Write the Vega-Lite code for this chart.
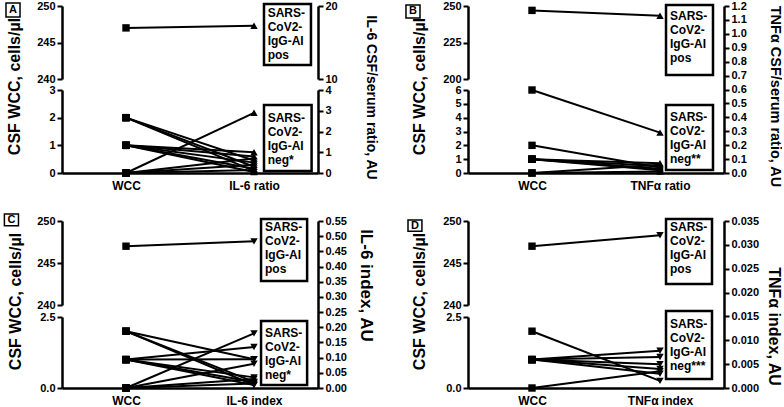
{
"$schema": "https://vega.github.io/schema/vega-lite/v6.json",
"background": "white",
"padding": {"left": 3, "top": 0, "right": 0, "bottom": 0},
"columns": 2,
"spacing": {"row": 48, "column": 150},
"bounds": "flush",
"datasets": {
"pts": [
{"p":"A","g":"pos","wcc":247,"r":17.3},
{"p":"A","g":"neg","wcc":2,"r":0.1},
{"p":"A","g":"neg","wcc":2,"r":0.3},
{"p":"A","g":"neg","wcc":2,"r":0.6},
{"p":"A","g":"neg","wcc":1,"r":1.0},
{"p":"A","g":"neg","wcc":1,"r":0.8},
{"p":"A","g":"neg","wcc":1,"r":0.5},
{"p":"A","g":"neg","wcc":1,"r":0.2},
{"p":"A","g":"neg","wcc":1,"r":0.05},
{"p":"A","g":"neg","wcc":0,"r":2.9},
{"p":"A","g":"neg","wcc":0,"r":0.7},
{"p":"A","g":"neg","wcc":0,"r":0.4},
{"p":"A","g":"neg","wcc":0,"r":0.15},
{"p":"B","g":"pos","wcc":247,"r":1.13},
{"p":"B","g":"neg","wcc":6,"r":0.29},
{"p":"B","g":"neg","wcc":2,"r":0.04},
{"p":"B","g":"neg","wcc":1,"r":0.07},
{"p":"B","g":"neg","wcc":1,"r":0.05},
{"p":"B","g":"neg","wcc":1,"r":0.03},
{"p":"B","g":"neg","wcc":1,"r":0.02},
{"p":"B","g":"neg","wcc":0,"r":0.06},
{"p":"B","g":"neg","wcc":0,"r":0.01},
{"p":"C","g":"pos","wcc":247,"r":0.483},
{"p":"C","g":"neg","wcc":2,"r":0.095},
{"p":"C","g":"neg","wcc":2,"r":0.01},
{"p":"C","g":"neg","wcc":2,"r":0.02},
{"p":"C","g":"neg","wcc":1,"r":0.135},
{"p":"C","g":"neg","wcc":1,"r":0.095},
{"p":"C","g":"neg","wcc":1,"r":0.035},
{"p":"C","g":"neg","wcc":1,"r":0.02},
{"p":"C","g":"neg","wcc":1,"r":0.01},
{"p":"C","g":"neg","wcc":0,"r":0.18},
{"p":"C","g":"neg","wcc":0,"r":0.08},
{"p":"C","g":"neg","wcc":0,"r":0.03},
{"p":"C","g":"neg","wcc":0,"r":0.015},
{"p":"D","g":"pos","wcc":247,"r":0.032},
{"p":"D","g":"neg","wcc":2,"r":0.0015},
{"p":"D","g":"neg","wcc":1,"r":0.0078},
{"p":"D","g":"neg","wcc":1,"r":0.0065},
{"p":"D","g":"neg","wcc":1,"r":0.005},
{"p":"D","g":"neg","wcc":1,"r":0.004},
{"p":"D","g":"neg","wcc":1,"r":0.003},
{"p":"D","g":"neg","wcc":0,"r":0.0035}
],
"labels": [
{"p":"A","k":"tag","t":"A"},
{"p":"A","k":"pos","t":"SARS-\nCoV2-\nIgG-AI\npos"},
{"p":"A","k":"neg","t":"SARS-\nCoV2-\nIgG-AI\nneg*"},
{"p":"B","k":"tag","t":"B"},
{"p":"B","k":"pos","t":"SARS-\nCoV2-\nIgG-AI\npos"},
{"p":"B","k":"neg","t":"SARS-\nCoV2-\nIgG-AI\nneg**"},
{"p":"C","k":"tag","t":"C"},
{"p":"C","k":"pos","t":"SARS-\nCoV2-\nIgG-AI\npos"},
{"p":"C","k":"neg","t":"SARS-\nCoV2-\nIgG-AI\nneg*"},
{"p":"D","k":"tag","t":"D"},
{"p":"D","k":"pos","t":"SARS-\nCoV2-\nIgG-AI\npos"},
{"p":"D","k":"neg","t":"SARS-\nCoV2-\nIgG-AI\nneg***"}
]
},
"concat": [
{
"width": 256, "height": 167,
"resolve": {"scale": {"y": "independent"}, "axis": {"y": "independent"}},
"layer": [
{"data":{"name":"pts"},"transform":[{"filter":"datum.p=='A' && datum.g=='neg'"},{"calculate":"0.75*datum.r","as":"re"}],
 "mark":{"type":"rule","color":"black","strokeWidth":2},
 "encoding":{"x":{"datum":1,"type":"quantitative","scale":{"domain":[0,4]},"axis":{"orient":"bottom","values":[1,3],"labelExpr":"datum.value==1?'WCC':'IL-6 ratio'","title":null,"ticks":false,"tickSize":0,"labelPadding":7,"labelFontSize":12}},"x2":{"datum":3},
  "y":{"field":"wcc","type":"quantitative","scale":{"domain":[0,3],"range":[167,84]},"axis":null},"y2":{"field":"re"}}},
{"data":{"name":"pts"},"transform":[{"filter":"datum.p=='A' && datum.g=='pos'"},{"calculate":"230+datum.r","as":"re"}],
 "mark":{"type":"rule","color":"black","strokeWidth":2},
 "encoding":{"x":{"datum":1,"type":"quantitative","scale":{"domain":[0,4]}},"x2":{"datum":3},
  "y":{"field":"wcc","type":"quantitative","scale":{"domain":[240,250],"range":[73,0]},"axis":null},"y2":{"field":"re"}}},
{"data":{"name":"pts"},"transform":[{"filter":"datum.p=='A' && datum.g=='neg'"}],
 "mark":{"type":"point","shape":"square","filled":true,"color":"black","opacity":1,"size":55},
 "encoding":{"x":{"datum":1,"type":"quantitative","scale":{"domain":[0,4]}},
  "y":{"field":"wcc","type":"quantitative","scale":{"domain":[0,3],"range":[167,84]},"axis":{"orient":"left","values":[0,1,2,3],"title":"CSF WCC, cells/µl","titleX":-48,"titleY":80}}}},
{"data":{"name":"pts"},"transform":[{"filter":"datum.p=='A' && datum.g=='pos'"}],
 "mark":{"type":"point","shape":"square","filled":true,"color":"black","opacity":1,"size":55},
 "encoding":{"x":{"datum":1,"type":"quantitative","scale":{"domain":[0,4]}},
  "y":{"field":"wcc","type":"quantitative","scale":{"domain":[240,250],"range":[73,0]},"axis":{"orient":"left","values":[240,245,250],"title":null}}}},
{"data":{"name":"pts"},"transform":[{"filter":"datum.p=='A' && datum.g=='neg'"}],
 "mark":{"type":"point","shape":"triangle-up","filled":true,"color":"black","opacity":1,"size":55},
 "encoding":{"x":{"datum":3,"type":"quantitative","scale":{"domain":[0,4]}},
  "y":{"field":"r","type":"quantitative","scale":{"domain":[0,4],"range":[167,84]},"axis":{"orient":"right","values":[0,1,2,3,4],"title":"IL-6 CSF/serum ratio, AU","titleX":52,"titleY":91,"titleFontSize":14}}}},
{"data":{"name":"pts"},"transform":[{"filter":"datum.p=='A' && datum.g=='pos'"}],
 "mark":{"type":"point","shape":"triangle-up","filled":true,"color":"black","opacity":1,"size":55},
 "encoding":{"x":{"datum":3,"type":"quantitative","scale":{"domain":[0,4]}},
  "y":{"field":"r","type":"quantitative","scale":{"domain":[10,20],"range":[73,0]},"axis":{"orient":"right","values":[10,20],"title":null}}}},
{"data":{"name":"labels"},"transform":[{"filter":"datum.p=='A' && datum.k=='pos'"}],
 "mark":{"type":"rect","fill":"white","stroke":"black","strokeWidth":2.5},
 "encoding":{"x":{"datum":3.156,"type":"quantitative","scale":{"domain":[0,4]}},"x2":{"datum":3.89},
  "y":{"datum":8.145,"type":"quantitative","scale":{"domain":[0,4],"range":[167,84]},"axis":null},"y2":{"datum":5.205}}},
{"data":{"name":"labels"},"transform":[{"filter":"datum.p=='A' && datum.k=='neg'"}],
 "mark":{"type":"rect","fill":"white","stroke":"black","strokeWidth":2.5},
 "encoding":{"x":{"datum":3.156,"type":"quantitative","scale":{"domain":[0,4]}},"x2":{"datum":3.9},
  "y":{"datum":3.277,"type":"quantitative","scale":{"domain":[0,4],"range":[167,84]},"axis":null},"y2":{"datum":0.096}}},
{"data":{"name":"labels"},"transform":[{"filter":"datum.p=='A' && datum.k=='pos'"}],
 "mark":{"type":"text","align":"left","baseline":"top","lineBreak":"\n","fontSize":12,"fontWeight":"bold","lineHeight":14,"color":"black"},
 "encoding":{"x":{"datum":3.214,"type":"quantitative","scale":{"domain":[0,4]}},
  "y":{"datum":7.933,"type":"quantitative","scale":{"domain":[0,4],"range":[167,84]},"axis":null},"text":{"field":"t"}}},
{"data":{"name":"labels"},"transform":[{"filter":"datum.p=='A' && datum.k=='neg'"}],
 "mark":{"type":"text","align":"left","baseline":"top","lineBreak":"\n","fontSize":12,"fontWeight":"bold","lineHeight":14,"color":"black"},
 "encoding":{"x":{"datum":3.214,"type":"quantitative","scale":{"domain":[0,4]}},
  "y":{"datum":2.906,"type":"quantitative","scale":{"domain":[0,4],"range":[167,84]},"axis":null},"text":{"field":"t"}}},
{"data":{"name":"labels"},"transform":[{"filter":"datum.p=='A' && datum.k=='tag'"}],
 "mark":{"type":"rect","fill":"white","stroke":"black","strokeWidth":1.5},
 "encoding":{"x":{"datum":-0.875,"type":"quantitative","scale":{"domain":[0,4]}},"x2":{"datum":-0.656},
  "y":{"datum":8.193,"type":"quantitative","scale":{"domain":[0,4],"range":[167,84]},"axis":null},"y2":{"datum":7.518}}},
{"data":{"name":"labels"},"transform":[{"filter":"datum.p=='A' && datum.k=='tag'"}],
 "mark":{"type":"text","align":"center","baseline":"middle","fontSize":11,"fontWeight":"bold","color":"black"},
 "encoding":{"x":{"datum":-0.766,"type":"quantitative","scale":{"domain":[0,4]}},
  "y":{"datum":7.855,"type":"quantitative","scale":{"domain":[0,4],"range":[167,84]},"axis":null},"text":{"field":"t"}}}
]
},
{
"width": 256, "height": 167,
"resolve": {"scale": {"y": "independent"}, "axis": {"y": "independent"}},
"layer": [
{"data":{"name":"pts"},"transform":[{"filter":"datum.p=='B' && datum.g=='neg'"},{"calculate":"10.06*datum.r","as":"re"}],
 "mark":{"type":"rule","color":"black","strokeWidth":2},
 "encoding":{"x":{"datum":1,"type":"quantitative","scale":{"domain":[0,4]},"axis":{"orient":"bottom","values":[1,3],"labelExpr":"datum.value==1?'WCC':'TNFα ratio'","title":null,"ticks":false,"tickSize":0,"labelPadding":7,"labelFontSize":12}},"x2":{"datum":3},
  "y":{"field":"wcc","type":"quantitative","scale":{"domain":[0,6],"range":[167,84]},"axis":null},"y2":{"field":"re"}}},
{"data":{"name":"pts"},"transform":[{"filter":"datum.p=='B' && datum.g=='pos'"},{"calculate":"135.616+95.32*datum.r","as":"re"}],
 "mark":{"type":"rule","color":"black","strokeWidth":2},
 "encoding":{"x":{"datum":1,"type":"quantitative","scale":{"domain":[0,4]}},"x2":{"datum":3},
  "y":{"field":"wcc","type":"quantitative","scale":{"domain":[200,250],"range":[73,0]},"axis":null},"y2":{"field":"re"}}},
{"data":{"name":"pts"},"transform":[{"filter":"datum.p=='B' && datum.g=='neg'"}],
 "mark":{"type":"point","shape":"square","filled":true,"color":"black","opacity":1,"size":55},
 "encoding":{"x":{"datum":1,"type":"quantitative","scale":{"domain":[0,4]}},
  "y":{"field":"wcc","type":"quantitative","scale":{"domain":[0,6],"range":[167,84]},"axis":{"orient":"left","values":[0,1,2,3,4,5,6],"title":"CSF WCC, cells/µl","titleX":-49,"titleY":80}}}},
{"data":{"name":"pts"},"transform":[{"filter":"datum.p=='B' && datum.g=='pos'"}],
 "mark":{"type":"point","shape":"square","filled":true,"color":"black","opacity":1,"size":55},
 "encoding":{"x":{"datum":1,"type":"quantitative","scale":{"domain":[0,4]}},
  "y":{"field":"wcc","type":"quantitative","scale":{"domain":[200,250],"range":[73,0]},"axis":{"orient":"left","values":[200,225,250],"title":null}}}},
{"data":{"name":"pts"},"transform":[{"filter":"datum.p=='B'"}],
 "mark":{"type":"point","shape":"triangle-up","filled":true,"color":"black","opacity":1,"size":55},
 "encoding":{"x":{"datum":3,"type":"quantitative","scale":{"domain":[0,4]}},
  "y":{"field":"r","type":"quantitative","scale":{"domain":[0,1.2],"range":[167,0]},"axis":{"orient":"right","values":[0,0.1,0.2,0.3,0.4,0.5,0.6,0.7,0.8,0.9,1.0,1.1,1.2],"format":".1f","title":"TNFα CSF/serum ratio, AU","titleX":50,"titleY":90,"titleFontSize":14.5}}}},
{"data":{"name":"labels"},"transform":[{"filter":"datum.p=='B' && datum.k=='pos'"}],
 "mark":{"type":"rect","fill":"white","stroke":"black","strokeWidth":2.5},
 "encoding":{"x":{"datum":3.094,"type":"quantitative","scale":{"domain":[0,4]}},"x2":{"datum":3.828},
  "y":{"datum":1.2072,"type":"quantitative","scale":{"domain":[0,1.2],"range":[167,0]},"axis":null},"y2":{"datum":0.7042}}},
{"data":{"name":"labels"},"transform":[{"filter":"datum.p=='B' && datum.k=='neg'"}],
 "mark":{"type":"rect","fill":"white","stroke":"black","strokeWidth":2.5},
 "encoding":{"x":{"datum":3.094,"type":"quantitative","scale":{"domain":[0,4]}},"x2":{"datum":3.828},
  "y":{"datum":0.4886,"type":"quantitative","scale":{"domain":[0,1.2],"range":[167,0]},"axis":null},"y2":{"datum":0.0216}}},
{"data":{"name":"labels"},"transform":[{"filter":"datum.p=='B' && datum.k=='pos'"}],
 "mark":{"type":"text","align":"left","baseline":"top","lineBreak":"\n","fontSize":12,"fontWeight":"bold","lineHeight":14,"color":"black"},
 "encoding":{"x":{"datum":3.156,"type":"quantitative","scale":{"domain":[0,4]}},
  "y":{"datum":1.1612,"type":"quantitative","scale":{"domain":[0,1.2],"range":[167,0]},"axis":null},"text":{"field":"t"}}},
{"data":{"name":"labels"},"transform":[{"filter":"datum.p=='B' && datum.k=='neg'"}],
 "mark":{"type":"text","align":"left","baseline":"top","lineBreak":"\n","fontSize":12,"fontWeight":"bold","lineHeight":14,"color":"black"},
 "encoding":{"x":{"datum":3.156,"type":"quantitative","scale":{"domain":[0,4]}},
  "y":{"datum":0.4354,"type":"quantitative","scale":{"domain":[0,1.2],"range":[167,0]},"axis":null},"text":{"field":"t"}}},
{"data":{"name":"labels"},"transform":[{"filter":"datum.p=='B' && datum.k=='tag'"}],
 "mark":{"type":"rect","fill":"white","stroke":"black","strokeWidth":1.5},
 "encoding":{"x":{"datum":-0.969,"type":"quantitative","scale":{"domain":[0,4]}},"x2":{"datum":-0.75},
  "y":{"datum":1.2072,"type":"quantitative","scale":{"domain":[0,1.2],"range":[167,0]},"axis":null},"y2":{"datum":1.1138}}},
{"data":{"name":"labels"},"transform":[{"filter":"datum.p=='B' && datum.k=='tag'"}],
 "mark":{"type":"text","align":"center","baseline":"middle","fontSize":11,"fontWeight":"bold","color":"black"},
 "encoding":{"x":{"datum":-0.86,"type":"quantitative","scale":{"domain":[0,4]}},
  "y":{"datum":1.1605,"type":"quantitative","scale":{"domain":[0,1.2],"range":[167,0]},"axis":null},"text":{"field":"t"}}}
]
},
{
"width": 256, "height": 167,
"resolve": {"scale": {"y": "independent"}, "axis": {"y": "independent"}},
"layer": [
{"data":{"name":"pts"},"transform":[{"filter":"datum.p=='C' && datum.g=='neg'"},{"calculate":"10.6914*datum.r","as":"re"}],
 "mark":{"type":"rule","color":"black","strokeWidth":2},
 "encoding":{"x":{"datum":1,"type":"quantitative","scale":{"domain":[0,4]},"axis":{"orient":"bottom","values":[1,3],"labelExpr":"datum.value==1?'WCC':'IL-6 index'","title":null,"ticks":false,"tickSize":0,"labelPadding":7,"labelFontSize":12}},"x2":{"datum":3},
  "y":{"field":"wcc","type":"quantitative","scale":{"domain":[0,2.5],"range":[167,96]},"axis":null},"y2":{"field":"re"}}},
{"data":{"name":"pts"},"transform":[{"filter":"datum.p=='C' && datum.g=='pos'"},{"calculate":"230.119+36.147*datum.r","as":"re"}],
 "mark":{"type":"rule","color":"black","strokeWidth":2},
 "encoding":{"x":{"datum":1,"type":"quantitative","scale":{"domain":[0,4]}},"x2":{"datum":3},
  "y":{"field":"wcc","type":"quantitative","scale":{"domain":[240,250],"range":[84,0]},"axis":null},"y2":{"field":"re"}}},
{"data":{"name":"pts"},"transform":[{"filter":"datum.p=='C' && datum.g=='neg'"}],
 "mark":{"type":"point","shape":"square","filled":true,"color":"black","opacity":1,"size":55},
 "encoding":{"x":{"datum":1,"type":"quantitative","scale":{"domain":[0,4]}},
  "y":{"field":"wcc","type":"quantitative","scale":{"domain":[0,2.5],"range":[167,96]},"axis":{"orient":"left","values":[0,2.5],"format":".1f","title":"CSF WCC, cells/µl","titleX":-47,"titleY":80}}}},
{"data":{"name":"pts"},"transform":[{"filter":"datum.p=='C' && datum.g=='pos'"}],
 "mark":{"type":"point","shape":"square","filled":true,"color":"black","opacity":1,"size":55},
 "encoding":{"x":{"datum":1,"type":"quantitative","scale":{"domain":[0,4]}},
  "y":{"field":"wcc","type":"quantitative","scale":{"domain":[240,250],"range":[84,0]},"axis":{"orient":"left","values":[240,245,250],"title":null}}}},
{"data":{"name":"pts"},"transform":[{"filter":"datum.p=='C'"}],
 "mark":{"type":"point","shape":"triangle-down","filled":true,"color":"black","opacity":1,"size":55},
 "encoding":{"x":{"datum":3,"type":"quantitative","scale":{"domain":[0,4]}},
  "y":{"field":"r","type":"quantitative","scale":{"domain":[0,0.55],"range":[167,0]},"axis":{"orient":"right","values":[0,0.05,0.1,0.15,0.2,0.25,0.3,0.35,0.4,0.45,0.5,0.55],"format":".2f","title":"IL-6 index, AU","titleX":47,"titleY":64,"titleFontSize":17}}}},
{"data":{"name":"labels"},"transform":[{"filter":"datum.p=='C' && datum.k=='pos'"}],
 "mark":{"type":"rect","fill":"white","stroke":"black","strokeWidth":2.5},
 "encoding":{"x":{"datum":3.11,"type":"quantitative","scale":{"domain":[0,4]}},"x2":{"datum":3.83},
  "y":{"datum":0.5566,"type":"quantitative","scale":{"domain":[0,0.55],"range":[167,0]},"axis":null},"y2":{"datum":0.3524}}},
{"data":{"name":"labels"},"transform":[{"filter":"datum.p=='C' && datum.k=='neg'"}],
 "mark":{"type":"rect","fill":"white","stroke":"black","strokeWidth":2.5},
 "encoding":{"x":{"datum":3.11,"type":"quantitative","scale":{"domain":[0,4]}},"x2":{"datum":3.83},
  "y":{"datum":0.2207,"type":"quantitative","scale":{"domain":[0,0.55],"range":[167,0]},"axis":null},"y2":{"datum":0.0099}}},
{"data":{"name":"labels"},"transform":[{"filter":"datum.p=='C' && datum.k=='pos'"}],
 "mark":{"type":"text","align":"left","baseline":"top","lineBreak":"\n","fontSize":12,"fontWeight":"bold","lineHeight":14,"color":"black"},
 "encoding":{"x":{"datum":3.172,"type":"quantitative","scale":{"domain":[0,4]}},
  "y":{"datum":0.5454,"type":"quantitative","scale":{"domain":[0,0.55],"range":[167,0]},"axis":null},"text":{"field":"t"}}},
{"data":{"name":"labels"},"transform":[{"filter":"datum.p=='C' && datum.k=='neg'"}],
 "mark":{"type":"text","align":"left","baseline":"top","lineBreak":"\n","fontSize":12,"fontWeight":"bold","lineHeight":14,"color":"black"},
 "encoding":{"x":{"datum":3.172,"type":"quantitative","scale":{"domain":[0,4]}},
  "y":{"datum":0.1979,"type":"quantitative","scale":{"domain":[0,0.55],"range":[167,0]},"axis":null},"text":{"field":"t"}}},
{"data":{"name":"labels"},"transform":[{"filter":"datum.p=='C' && datum.k=='tag'"}],
 "mark":{"type":"rect","fill":"white","stroke":"black","strokeWidth":1.5},
 "encoding":{"x":{"datum":-0.9,"type":"quantitative","scale":{"domain":[0,4]}},"x2":{"datum":-0.68},
  "y":{"datum":0.5731,"type":"quantitative","scale":{"domain":[0,0.55],"range":[167,0]},"axis":null},"y2":{"datum":0.5345}}},
{"data":{"name":"labels"},"transform":[{"filter":"datum.p=='C' && datum.k=='tag'"}],
 "mark":{"type":"text","align":"center","baseline":"middle","fontSize":11,"fontWeight":"bold","color":"black"},
 "encoding":{"x":{"datum":-0.79,"type":"quantitative","scale":{"domain":[0,4]}},
  "y":{"datum":0.5538,"type":"quantitative","scale":{"domain":[0,0.55],"range":[167,0]},"axis":null},"text":{"field":"t"}}}
]
},
{
"width": 256, "height": 167,
"resolve": {"scale": {"y": "independent"}, "axis": {"y": "independent"}},
"layer": [
{"data":{"name":"pts"},"transform":[{"filter":"datum.p=='D' && datum.g=='neg'"},{"calculate":"168.01*datum.r","as":"re"}],
 "mark":{"type":"rule","color":"black","strokeWidth":2},
 "encoding":{"x":{"datum":1,"type":"quantitative","scale":{"domain":[0,4]},"axis":{"orient":"bottom","values":[1,3],"labelExpr":"datum.value==1?'WCC':'TNFα index'","title":null,"ticks":false,"tickSize":0,"labelPadding":7,"labelFontSize":12}},"x2":{"datum":3},
  "y":{"field":"wcc","type":"quantitative","scale":{"domain":[0,2.5],"range":[167,96]},"axis":null},"y2":{"field":"re"}}},
{"data":{"name":"pts"},"transform":[{"filter":"datum.p=='D' && datum.g=='pos'"},{"calculate":"230.119+568.027*datum.r","as":"re"}],
 "mark":{"type":"rule","color":"black","strokeWidth":2},
 "encoding":{"x":{"datum":1,"type":"quantitative","scale":{"domain":[0,4]}},"x2":{"datum":3},
  "y":{"field":"wcc","type":"quantitative","scale":{"domain":[240,250],"range":[84,0]},"axis":null},"y2":{"field":"re"}}},
{"data":{"name":"pts"},"transform":[{"filter":"datum.p=='D' && datum.g=='neg'"}],
 "mark":{"type":"point","shape":"square","filled":true,"color":"black","opacity":1,"size":55},
 "encoding":{"x":{"datum":1,"type":"quantitative","scale":{"domain":[0,4]}},
  "y":{"field":"wcc","type":"quantitative","scale":{"domain":[0,2.5],"range":[167,96]},"axis":{"orient":"left","values":[0,2.5],"format":".1f","title":"CSF WCC, cells/µl","titleX":-49,"titleY":80}}}},
{"data":{"name":"pts"},"transform":[{"filter":"datum.p=='D' && datum.g=='pos'"}],
 "mark":{"type":"point","shape":"square","filled":true,"color":"black","opacity":1,"size":55},
 "encoding":{"x":{"datum":1,"type":"quantitative","scale":{"domain":[0,4]}},
  "y":{"field":"wcc","type":"quantitative","scale":{"domain":[240,250],"range":[84,0]},"axis":{"orient":"left","values":[240,245,250],"title":null}}}},
{"data":{"name":"pts"},"transform":[{"filter":"datum.p=='D'"}],
 "mark":{"type":"point","shape":"triangle-down","filled":true,"color":"black","opacity":1,"size":55},
 "encoding":{"x":{"datum":3,"type":"quantitative","scale":{"domain":[0,4]}},
  "y":{"field":"r","type":"quantitative","scale":{"domain":[0,0.035],"range":[167,0]},"axis":{"orient":"right","values":[0,0.005,0.01,0.015,0.02,0.025,0.03,0.035],"format":".3f","title":"TNFα index, AU","titleX":49,"titleY":105,"titleFontSize":16}}}},
{"data":{"name":"labels"},"transform":[{"filter":"datum.p=='D' && datum.k=='pos'"}],
 "mark":{"type":"rect","fill":"white","stroke":"black","strokeWidth":2.5},
 "encoding":{"x":{"datum":3.094,"type":"quantitative","scale":{"domain":[0,4]}},"x2":{"datum":3.8125},
  "y":{"datum":0.03542,"type":"quantitative","scale":{"domain":[0,0.035],"range":[167,0]},"axis":null},"y2":{"datum":0.0218}}},
{"data":{"name":"labels"},"transform":[{"filter":"datum.p=='D' && datum.k=='neg'"}],
 "mark":{"type":"rect","fill":"white","stroke":"black","strokeWidth":2.5},
 "encoding":{"x":{"datum":3.094,"type":"quantitative","scale":{"domain":[0,4]}},"x2":{"datum":3.8125},
  "y":{"datum":0.016138,"type":"quantitative","scale":{"domain":[0,0.035],"range":[167,0]},"axis":null},"y2":{"datum":0.001886}}},
{"data":{"name":"labels"},"transform":[{"filter":"datum.p=='D' && datum.k=='pos'"}],
 "mark":{"type":"text","align":"left","baseline":"top","lineBreak":"\n","fontSize":12,"fontWeight":"bold","lineHeight":14,"color":"black"},
 "encoding":{"x":{"datum":3.156,"type":"quantitative","scale":{"domain":[0,4]}},
  "y":{"datum":0.034706,"type":"quantitative","scale":{"domain":[0,0.035],"range":[167,0]},"axis":null},"text":{"field":"t"}}},
{"data":{"name":"labels"},"transform":[{"filter":"datum.p=='D' && datum.k=='neg'"}],
 "mark":{"type":"text","align":"left","baseline":"top","lineBreak":"\n","fontSize":12,"fontWeight":"bold","lineHeight":14,"color":"black"},
 "encoding":{"x":{"datum":3.156,"type":"quantitative","scale":{"domain":[0,4]}},
  "y":{"datum":0.01444,"type":"quantitative","scale":{"domain":[0,0.035],"range":[167,0]},"axis":null},"text":{"field":"t"}}},
{"data":{"name":"labels"},"transform":[{"filter":"datum.p=='D' && datum.k=='tag'"}],
 "mark":{"type":"rect","fill":"white","stroke":"black","strokeWidth":1.5},
 "encoding":{"x":{"datum":-0.9375,"type":"quantitative","scale":{"domain":[0,4]}},"x2":{"datum":-0.72},
  "y":{"datum":0.035209,"type":"quantitative","scale":{"domain":[0,0.035],"range":[167,0]},"axis":null},"y2":{"datum":0.032842}}},
{"data":{"name":"labels"},"transform":[{"filter":"datum.p=='D' && datum.k=='tag'"}],
 "mark":{"type":"text","align":"center","baseline":"middle","fontSize":11,"fontWeight":"bold","color":"black"},
 "encoding":{"x":{"datum":-0.83,"type":"quantitative","scale":{"domain":[0,4]}},
  "y":{"datum":0.034025,"type":"quantitative","scale":{"domain":[0,0.035],"range":[167,0]},"axis":null},"text":{"field":"t"}}}
]
}
],
"config": {
"font": "Liberation Sans",
"view": {"stroke": null},
"axis": {"grid": false, "domainColor": "black", "domainWidth": 2.5, "tickColor": "black", "tickWidth": 2, "tickSize": 5,
 "labelColor": "black", "labelFont": "Liberation Sans", "labelFontWeight": "bold", "labelFontSize": 11, "labelPadding": 2,
 "labelFlush": false, "labelOverlap": false, "labelBound": false,
 "titleFont": "Liberation Sans", "titleFontWeight": "bold", "titleColor": "black", "titleFontSize": 16, "titleBaseline": "middle"}
}
}
